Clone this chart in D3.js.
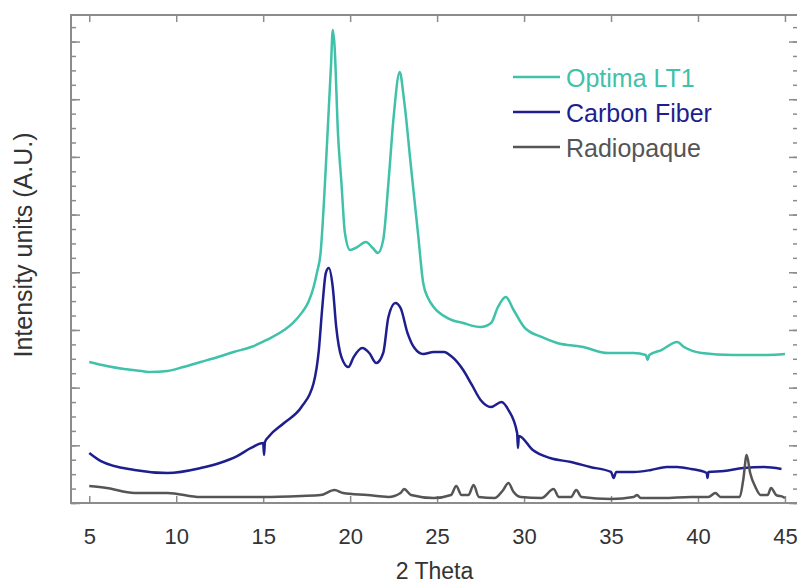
<!DOCTYPE html>
<html>
<head>
<meta charset="utf-8">
<script src="https://cdn.jsdelivr.net/npm/d3@7"></script>
<style>
  body { margin: 0; background: #fff; }
  svg { display: block; font-family: "Liberation Sans", Arial, sans-serif; }
</style>
</head>
<body>
<svg width="797" height="586"></svg>
<script>
// 2 theta positions and intensities (arbitrary units)
const optimaX = [5.0, 6.0, 7.0, 8.0, 8.5, 9.5, 10.4, 11.4, 12.4, 13.3, 14.3, 15.2, 16.2, 16.7, 17.2, 17.6, 17.9, 18.1, 18.3, 18.5, 18.7, 18.9, 19.0, 19.1, 19.3, 19.5, 19.7, 20.0, 20.4, 20.9, 21.3, 21.6, 21.9, 22.2, 22.5, 22.85, 23.1, 23.5, 23.9, 24.2, 24.5, 24.8, 25.6, 26.5, 27.5, 28.1, 28.5, 28.95, 29.4, 30.0, 31.0, 31.9, 33.4, 34.8, 36.3, 37.0, 37.1, 37.2, 37.9, 38.8, 39.2, 40.2, 42.0, 44.0, 45.0];
const optimaY = [1222, 1187, 1161, 1144, 1135, 1144, 1179, 1222, 1265, 1309, 1352, 1413, 1499, 1560, 1646, 1742, 1872, 2002, 2167, 2626, 3206, 3796, 4099, 3969, 3206, 2773, 2340, 2192, 2218, 2262, 2210, 2167, 2279, 2773, 3345, 3735, 3492, 2912, 2340, 1907, 1770, 1699, 1603, 1560, 1525, 1560, 1699, 1785, 1673, 1525, 1439, 1387, 1352, 1300, 1300, 1283, 1239, 1283, 1326, 1395, 1352, 1300, 1283, 1283, 1291];

const carbonX = [5.0, 5.7, 7.6, 9.5, 11.4, 12.5, 13.5, 14.3, 15.0, 15.05, 15.1, 15.3, 16.2, 17.2, 17.9, 18.2, 18.4, 18.6, 18.77, 19.0, 19.2, 19.5, 19.9, 20.2, 20.7, 21.1, 21.5, 21.9, 22.2, 22.6, 22.9, 23.3, 23.7, 24.2, 24.8, 25.4, 25.8, 26.5, 27.0, 27.5, 28.1, 28.7, 29.1, 29.6, 29.65, 29.7, 30.5, 31.5, 32.7, 33.8, 35.0, 35.15, 35.3, 36.3, 37.3, 38.2, 38.8, 39.6, 40.5, 40.55, 40.6, 41.5, 42.6, 43.8, 44.8];
const carbonY = [433, 360, 286, 260, 303, 347, 407, 477, 520, 416, 528, 572, 693, 832, 1040, 1326, 1699, 1993, 2037, 1872, 1525, 1265, 1179, 1265, 1343, 1300, 1213, 1300, 1612, 1733, 1690, 1473, 1343, 1291, 1309, 1309, 1274, 1153, 1023, 893, 832, 875, 806, 607, 477, 581, 459, 390, 355, 312, 269, 217, 269, 269, 286, 312, 312, 295, 260, 217, 269, 277, 303, 312, 295];

const radioX = [5.0, 6.0, 7.6, 9.5, 11.4, 13.0, 15.0, 17.2, 18.3, 19.1, 19.6, 21.0, 22.2, 22.9, 23.1, 23.5, 24.8, 25.8, 26.1, 26.4, 26.8, 27.1, 27.4, 28.3, 28.8, 29.1, 29.4, 29.8, 31.0, 31.7, 32.0, 32.7, 33.0, 33.3, 35.0, 36.3, 36.5, 36.7, 38.0, 39.6, 40.6, 41.0, 41.3, 42.4, 42.6, 42.8, 43.0, 43.3, 43.6, 44.0, 44.2, 44.5, 44.9, 45.0];
const radioY = [147, 130, 87, 87, 52, 52, 52, 61, 69, 113, 87, 69, 52, 87, 121, 69, 43, 69, 147, 69, 69, 156, 52, 43, 113, 173, 95, 52, 43, 121, 52, 52, 113, 52, 35, 52, 69, 43, 43, 52, 52, 87, 52, 52, 199, 416, 260, 139, 69, 69, 130, 69, 52, 43];

const seriesNames = ["Optima LT1", "Carbon Fiber", "Radiopaque"];
const seriesColors = ["#3fc1aa", "#1e1e8e", "#555555"];
const xTicks = [5, 10, 15, 20, 25, 30, 35, 40, 45];

const toPoints = (xs, ys) => xs.map((d, i) => ({x: d, y: ys[i]}));
const allSeries = [
    toPoints(optimaX, optimaY),
    toPoints(carbonX, carbonY),
    toPoints(radioX, radioY)
];

const svg = d3.select("svg");
const plotLeft = 71, plotRight = 798, plotTop = 15, plotBottom = 503;

const xScale = d3.scaleLinear().domain([3.95, 45.75]).range([plotLeft, plotRight]);
const yScale = d3.scaleLinear().domain([0, 4230]).range([plotBottom, plotTop]);

const frameColor = "#8c8c8c";

// bottom axis with labels, ticks pointing in
const xAxisG = svg.append("g")
    .attr("transform", "translate(0," + plotBottom + ")")
    .call(d3.axisBottom(xScale).tickValues(xTicks).tickSizeInner(-7).tickSizeOuter(0).tickPadding(25));
xAxisG.selectAll("text").attr("font-size", 22).attr("fill", "#333").attr("font-family", "Liberation Sans, Arial, sans-serif");

// top axis, ticks only
svg.append("g")
    .attr("transform", "translate(0," + plotTop + ")")
    .call(d3.axisTop(xScale).tickValues(xTicks).tickSizeInner(-7).tickSizeOuter(0).tickFormat(""));

// left and right axes: minor + major ticks, no labels
const minorY = d3.range(0, 4230, 125);
const majorY = d3.range(0, 4230, 500);
[[d3.axisLeft, plotLeft], [d3.axisRight, plotRight]].forEach(([axisFn, pos]) => {
    svg.append("g")
        .attr("transform", "translate(" + pos + ",0)")
        .call(axisFn(yScale).tickValues(minorY).tickSizeInner(-5).tickSizeOuter(0).tickFormat(""));
    svg.append("g")
        .attr("transform", "translate(" + pos + ",0)")
        .call(axisFn(yScale).tickValues(majorY).tickSizeInner(-9).tickSizeOuter(0).tickFormat(""));
});

svg.selectAll(".domain").remove();
svg.selectAll(".tick line").attr("stroke", frameColor).attr("stroke-width", 1.5);

svg.append("rect")
    .attr("x", plotLeft).attr("y", plotTop)
    .attr("width", plotRight - plotLeft).attr("height", plotBottom - plotTop)
    .attr("fill", "none").attr("stroke", frameColor).attr("stroke-width", 2);

const line = d3.line()
    .curve(d3.curveMonotoneX)
    .x(d => xScale(d.x))
    .y(d => yScale(d.y));

svg.selectAll(".series")
    .data(allSeries)
    .enter().append("path")
        .attr("class", "series")
        .attr("d", line)
        .attr("fill", "none")
        .attr("stroke", (d, i) => seriesColors[i])
        .attr("stroke-width", 2.5)
        .attr("stroke-linejoin", "round");

// legend
const legend = svg.append("g").attr("transform", "translate(513,77)");
seriesNames.forEach((name, i) => {
    const row = legend.append("g").attr("transform", "translate(0," + (i * 35) + ")");
    row.append("line")
        .attr("x1", 0).attr("x2", 47)
        .attr("stroke", seriesColors[i]).attr("stroke-width", 2.5);
    row.append("text")
        .attr("x", 53).attr("y", 10)
        .attr("font-size", 25)
        .attr("fill", seriesColors[i])
        .text(name);
});

// axis titles
svg.append("text")
    .attr("x", (plotLeft + plotRight) / 2).attr("y", 579)
    .attr("text-anchor", "middle")
    .attr("font-size", 23).attr("fill", "#333")
    .text("2 Theta");

svg.append("text")
    .attr("transform", "translate(32,245) rotate(-90)")
    .attr("text-anchor", "middle")
    .attr("font-size", 25).attr("fill", "#333")
    .text("Intensity units (A.U.)");
</script>
</body>
</html>
